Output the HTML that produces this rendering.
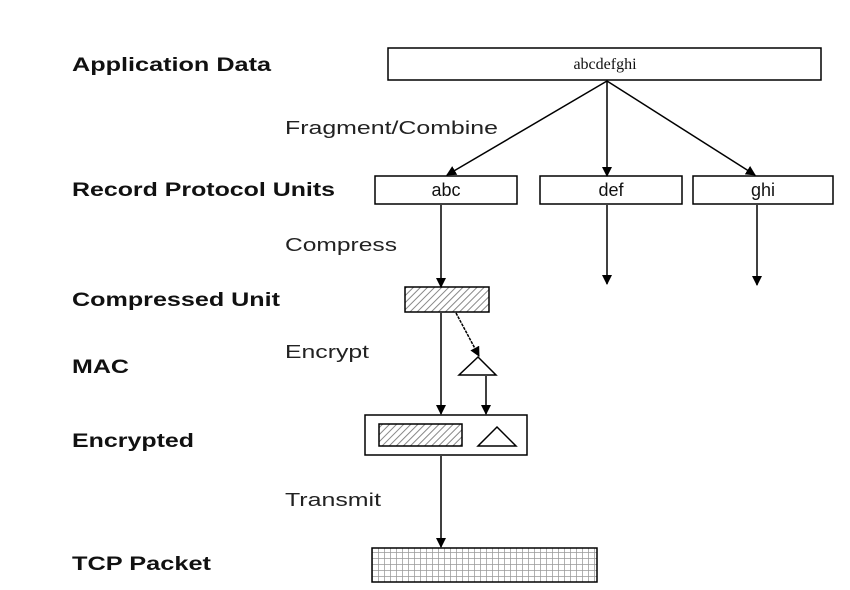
<!DOCTYPE html>
<html><head><meta charset="utf-8"><style>html,body{margin:0;padding:0;background:#fff}svg{display:block}</style></head>
<body>
<svg width="850" height="590" viewBox="0 0 850 590" xmlns="http://www.w3.org/2000/svg">
<defs>
<pattern id="hatch" width="5" height="5" patternUnits="userSpaceOnUse" patternTransform="rotate(45)">
<rect width="5" height="5" fill="#fff"/><line x1="0" y1="0" x2="0" y2="5" stroke="#888" stroke-width="2"/>
</pattern>
<pattern id="grid" width="6" height="6" patternUnits="userSpaceOnUse">
<rect width="6" height="6" fill="#fff"/><path d="M0 0H6M0 0V6" stroke="#999" stroke-width="1.5"/>
</pattern>
<marker id="ah" markerWidth="10" markerHeight="10" refX="9" refY="5" orient="auto" markerUnits="userSpaceOnUse">
<path d="M0,0 L10,5 L0,10 Z" fill="#000"/>
</marker>
</defs>
<g font-family="Liberation Sans, sans-serif" font-weight="bold" font-size="19" fill="#111">
<text x="72" y="71" textLength="199" lengthAdjust="spacingAndGlyphs">Application Data</text>
<text x="72" y="196" textLength="263" lengthAdjust="spacingAndGlyphs">Record Protocol Units</text>
<text x="72" y="306" textLength="208" lengthAdjust="spacingAndGlyphs">Compressed Unit</text>
<text x="72" y="373" textLength="57" lengthAdjust="spacingAndGlyphs">MAC</text>
<text x="72" y="447" textLength="122" lengthAdjust="spacingAndGlyphs">Encrypted</text>
<text x="72" y="570" textLength="139" lengthAdjust="spacingAndGlyphs">TCP Packet</text>
</g>
<g font-family="Liberation Sans, sans-serif" font-size="18" fill="#222">
<text x="285" y="134" textLength="213" lengthAdjust="spacingAndGlyphs">Fragment/Combine</text>
<text x="285" y="251" textLength="112" lengthAdjust="spacingAndGlyphs">Compress</text>
<text x="285" y="358" textLength="84" lengthAdjust="spacingAndGlyphs">Encrypt</text>
<text x="285" y="506" textLength="96" lengthAdjust="spacingAndGlyphs">Transmit</text>
</g>
<g stroke="#000" stroke-width="1.5" fill="#fff">
<rect x="388" y="48" width="433" height="32"/>
<rect x="375" y="176" width="142" height="28"/>
<rect x="540" y="176" width="142" height="28"/>
<rect x="693" y="176" width="140" height="28"/>
<rect x="405" y="287" width="84" height="25" fill="url(#hatch)"/>
<rect x="365" y="415" width="162" height="40"/>
<rect x="379" y="424" width="83" height="22" fill="url(#hatch)"/>
<path d="M497,427 L516,446 L478,446 Z"/>
<path d="M478,357 L496,375 L459,375 Z"/>
<rect x="372" y="548" width="225" height="34" fill="url(#grid)"/>
</g>
<g font-family="Liberation Serif, serif" font-size="16" fill="#111" text-anchor="middle">
<text x="605" y="69">abcdefghi</text>
</g>
<g font-family="Liberation Sans, sans-serif" font-size="18" fill="#111" text-anchor="middle">
<text x="446" y="196">abc</text>
<text x="611" y="196">def</text>
<text x="763" y="196">ghi</text>
</g>
<g stroke="#000" stroke-width="1.5" fill="none" marker-end="url(#ah)">
<line x1="607" y1="81" x2="447" y2="175"/>
<line x1="607" y1="81" x2="607" y2="176"/>
<line x1="607" y1="81" x2="755" y2="175"/>
<line x1="441" y1="205" x2="441" y2="287"/>
<line x1="607" y1="205" x2="607" y2="284"/>
<line x1="757" y1="205" x2="757" y2="285"/>
<line x1="456" y1="313" x2="479" y2="356" stroke-dasharray="3,1"/>
<line x1="441" y1="313" x2="441" y2="414"/>
<line x1="486" y1="376" x2="486" y2="414"/>
<line x1="441" y1="456" x2="441" y2="547"/>
</g>
</svg>
</body></html>
